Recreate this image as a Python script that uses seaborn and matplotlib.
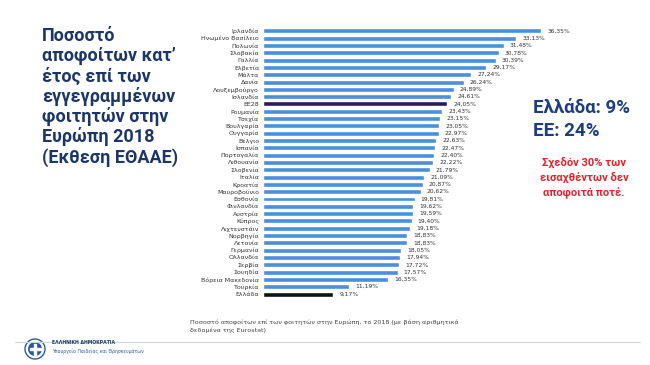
import numpy as np
import pandas as pd
import seaborn as sns
import matplotlib.pyplot as plt
from matplotlib.patches import Circle, Rectangle

# DATA ----------------------------------------------------------------------------
countries = ["Ιρλανδία", "Ηνωμένο Βασίλειο", "Πολωνία", "Σλοβακία", "Γαλλία",
             "Ελβετία", "Μάλτα", "Δανία", "Λουξεμβούργο", "Ισλανδία", "ΕΕ28",
             "Ρουμανία", "Τσεχία", "Βουλγαρία", "Ουγγαρία", "Βέλγιο", "Ισπανία",
             "Πορτογαλία", "Λιθουανία", "Σλοβενία", "Ιταλία", "Κροατία",
             "Μαυροβούνιο", "Εσθονία", "Φινλανδία", "Αυστρία", "Κύπρος",
             "Λιχτενστάιν", "Νορβηγία", "Λετονία", "Γερμανία", "Ολλανδία",
             "Σερβία", "Σουηδία", "Βόρεια Μακεδονία", "Τουρκία", "Ελλάδα"]
rates = [36.35, 33.13, 31.48, 30.78, 30.39, 29.17, 27.24, 26.24, 24.89, 24.61,
         24.05, 23.43, 23.15, 23.05, 22.97, 22.63, 22.47, 22.40, 22.22, 21.79,
         21.09, 20.87, 20.62, 19.81, 19.62, 19.59, 19.40, 19.18, 18.83, 18.83,
         18.05, 17.94, 17.72, 17.57, 16.35, 11.19, 9.17]
highlight = {"ΕΕ28": "#2b1b5e", "Ελλάδα": "#111111"}

title_lines = ["Ποσοστό", "αποφοίτων κατ’", "έτος επί των", "εγγεγραμμένων",
               "φοιτητών στην", "Ευρώπη 2018", "(Εκθεση ΕΘΑΑΕ)"]
caption = ("Ποσοστό αποφοίτων επί των φοιτητών στην Ευρώπη, το 2018 (με βάση αριθμητικά\n"
           "δεδομένα της Eurostat)")

df = pd.DataFrame({"country": countries, "rate": rates})
colors = [highlight.get(c, "#4a8fdb") for c in countries]

# PLOT ----------------------------------------------------------------------------
sns.set_style("white")
plt.rcParams["font.family"] = ["DejaVu Sans"]
big_font = ["Roboto", "DejaVu Sans"]

fig = plt.figure(figsize=(6.5, 3.65), dpi=100)
ax = fig.add_axes([0.405, 0.1844, 0.588, 0.741])

sns.barplot(data=df, x="rate", y="country", hue="country", palette=colors,
            legend=False, width=0.68, saturation=1, ax=ax)
ax.set_xlim(0, 50)
ax.set_ylim(len(countries) - 0.5, -0.5)
ax.set_xlabel("")
ax.set_ylabel("")
ax.set_xticks([])
ax.tick_params(axis="y", length=0, pad=3, labelsize=4.5, labelcolor="#333333")
sns.despine(ax=ax, left=True, bottom=True)

for i, v in enumerate(rates):
    ax.text(v + 0.8, i, f"{v:.2f}".replace(".", ",") + "%", va="center",
            ha="left", fontsize=4.3, color="#333333")

# left title
navy = "#1c3767"
for k, line in enumerate(title_lines):
    fig.text(42 / 650, 1 - (36 + k * 20.2) / 365, line, fontsize=13,
             fontweight="bold", color=navy, va="center", ha="left",
             family=big_font)

# right annotations
fig.text(533 / 650, 1 - 108 / 365, "Ελλάδα: 9%", fontsize=13.5, fontweight="bold",
         color="#1d3f7e", va="center", ha="left", family=big_font)
fig.text(533 / 650, 1 - 131 / 365, "ΕΕ: 24%", fontsize=13.5, fontweight="bold",
         color="#1d3f7e", va="center", ha="left", family=big_font)
for k, line in enumerate(["Σχεδόν 30% των", "εισαχθέντων δεν", "αποφοιτά ποτέ."]):
    fig.text(584 / 650, 1 - (162 + k * 15.5) / 365, line, fontsize=8,
             fontweight="bold", color="#e3222b", va="center", ha="center",
             family=big_font)

# caption under the chart
fig.text(190 / 650, 1 - 326 / 365, caption, fontsize=4.6, color="#444444",
         va="center", ha="left", linespacing=1.5)

# footer line
fig.add_artist(plt.Line2D([15 / 650, 640 / 650], [1 - 342 / 365] * 2,
                          color="#c9d9dd", lw=0.8))

# footer emblem
lax = fig.add_axes([24 / 650, 1 - 360 / 365, 22 / 650, 22 / 365])
lax.set_xlim(-1.1, 1.1)
lax.set_ylim(-1.1, 1.1)
lax.set_aspect("equal")
lax.axis("off")
lax.add_patch(Circle((0, 0), 1.0, facecolor="#ffffff", edgecolor="#2a5aa0", lw=1))
lax.add_patch(Circle((0, 0), 0.7, facecolor="#2a5aa0", edgecolor="none"))
lax.add_patch(Rectangle((-0.14, -0.55), 0.28, 1.1, facecolor="white"))
lax.add_patch(Rectangle((-0.55, -0.14), 1.1, 0.28, facecolor="white"))

fig.text(52 / 650, 1 - 343 / 365, "ΕΛΛΗΝΙΚΗ ΔΗΜΟΚΡΑΤΙΑ", fontsize=3.3,
         fontweight="bold", color="#1c3767", va="center", ha="left")
fig.text(52 / 650, 1 - 351 / 365, "Υπουργείο Παιδείας και Θρησκευμάτων", fontsize=3.3,
         color="#2a5aa0", va="center", ha="left")

fig.savefig("out.png", dpi=100, facecolor="white")
